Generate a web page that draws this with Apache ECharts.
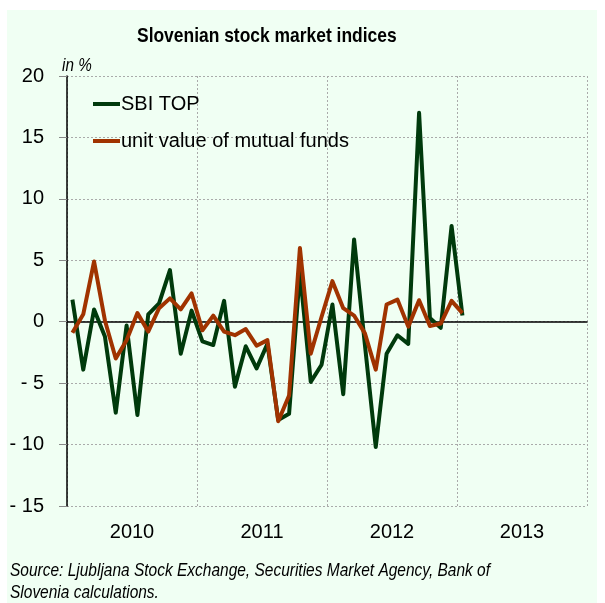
<!DOCTYPE html>
<html>
<head>
<meta charset="utf-8">
<script src="https://cdn.jsdelivr.net/npm/echarts@6/dist/echarts.min.js"></script>
<style>
  html, body { margin: 0; padding: 0; background: #fff; }
  #chart { width: 605px; height: 603px; }
</style>
</head>
<body>
<div id="chart"></div>
<script>
// monthly changes, Jan 2010 .. Jan 2013
let years = ['2010', '2011', '2012', '2013']
let monthNames = ['Jan', 'Feb', 'Mar', 'Apr', 'May', 'Jun', 'Jul', 'Aug', 'Sep', 'Oct', 'Nov', 'Dec']
let months = years.flatMap(y => monthNames.map(m => m + ' ' + y))

let sbiTop = [1.8, -3.9, 1.0, -1.2, -7.4, -0.3, -7.6, 0.6, 1.5, 4.2, -2.6, 0.9,
  -1.6, -1.9, 1.7, -5.3, -2.0, -3.8, -1.8, -8.0, -7.5, 4.0, -4.9, -3.5,
  1.4, -5.9, 6.7, -1.9, -10.2, -2.6, -1.1, -1.8, 17.0, 0.3, -0.5, 7.8,
  0.5]
let mutualFunds = [-0.9, 0.6, 4.9, 0.1, -3.0, -1.5, 0.7, -0.8, 1.1, 1.9, 1.0, 2.3,
  -0.7, 0.5, -0.8, -1.1, -0.6, -1.95, -1.5, -8.1, -6.0, 6.0, -2.6, 0.4,
  3.3, 1.1, 0.5, -0.95, -3.9, 1.4, 1.8, -0.4, 1.75, -0.35, -0.15, 1.7,
  0.7]

let font = 'Liberation Sans, Arial, sans-serif'
let green = '#003a0c'
let brown = '#a03300'

let chart = echarts.init(document.getElementById('chart'))

// narrow look of the original: squeeze the text horizontally
function narrowText(x, y, text, font, scale, extra) {
  return {
    type: 'text', x, y, scaleX: scale,
    style: Object.assign({ text, font, fill: '#000', verticalAlign: 'top' }, extra || {})
  }
}

chart.setOption({
  animation: false,
  textStyle: { fontFamily: font },
  graphic: [
    {
      type: 'rect', z: -10,
      shape: { x: 7, y: 10, width: 590, height: 600 },
      style: { fill: '#f0fff3' }
    },
    narrowText(62, 57, 'in %', 'italic 18px ' + font, 0.85),
    narrowText(10, 560, 'Source: Ljubljana Stock Exchange, Securities Market Agency, Bank of\nSlovenia calculations.',
      'italic 19px ' + font, 0.815, { lineHeight: 22 }),
    narrowText(137, 26, 'Slovenian stock market indices', 'bold 21px ' + font, 0.83)
  ],
  legend: {
    orient: 'vertical',
    left: 93, top: 94, padding: 0,
    itemWidth: 27, itemHeight: 4, itemGap: 17,
    icon: 'rect',
    textStyle: { fontSize: 20, color: '#000', lineHeight: 20, padding: [0, 0, 0, -4] },
    data: ['SBI TOP', 'unit value of mutual funds']
  },
  grid: { left: 67, top: 76, width: 520, height: 430 },
  xAxis: [
    {
      type: 'category',
      data: months,
      boundaryGap: true,
      axisLine: { show: true, onZero: true, lineStyle: { color: '#000', width: 1.5 } },
      axisTick: { show: false },
      axisLabel: { show: false },
      splitLine: { show: false }
    },
    {
      type: 'category',
      data: years,
      position: 'bottom',
      boundaryGap: true,
      axisLine: { show: false },
      axisTick: { show: false },
      axisLabel: { fontSize: 20, color: '#000', margin: 16 },
      splitLine: { show: true, lineStyle: { color: '#aaa', type: [2, 2] } }
    }
  ],
  yAxis: {
    type: 'value',
    min: -15, max: 20, interval: 5,
    axisLine: { show: true, lineStyle: { color: '#000', width: 1.5 } },
    axisTick: { show: true, inside: false, length: 8, lineStyle: { color: '#888' } },
    axisLabel: {
      fontSize: 20, color: '#000', margin: 23,
      formatter: v => v < 0 ? '- ' + Math.abs(v) : String(v)
    },
    splitLine: { show: true, lineStyle: { color: '#aaa', type: [2, 2] } }
  },
  series: [
    {
      name: 'SBI TOP',
      type: 'line',
      data: sbiTop,
      symbol: 'none',
      lineStyle: { color: green, width: 4, join: 'round' },
      itemStyle: { color: green }
    },
    {
      name: 'unit value of mutual funds',
      type: 'line',
      data: mutualFunds,
      symbol: 'none',
      lineStyle: { color: brown, width: 4, join: 'round' },
      itemStyle: { color: brown }
    }
  ]
})
</script>
</body>
</html>
